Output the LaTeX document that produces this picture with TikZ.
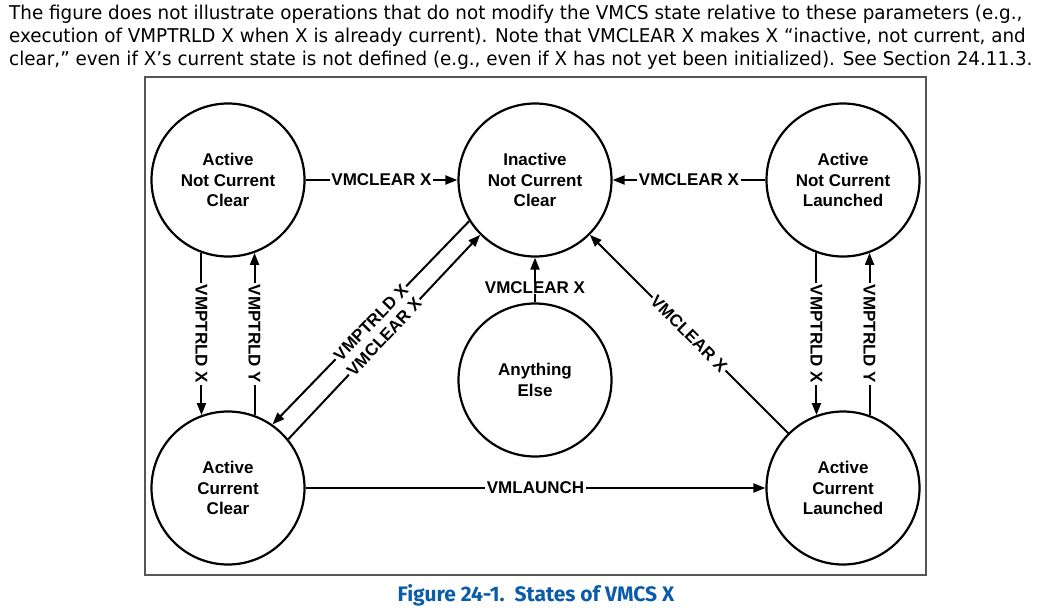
\documentclass[tikz,border=0pt]{standalone}
\usepackage{fontspec}
\usetikzlibrary{arrows.meta}
\newfontfamily\labfont{Liberation Sans}
\newfontfamily\parfont{DejaVu Sans}[FakeStretch=0.965]
\newfontfamily\capfont{Fira Sans}
\definecolor{intelblue}{HTML}{0B5CA8}
\definecolor{framegray}{HTML}{555555}
\begin{document}
\begin{tikzpicture}[x=1pt,y=-1pt,
  state/.style={circle,draw,line width=2.2pt,minimum size=153pt,inner sep=0pt,align=center,
    font=\labfont\bfseries\fontsize{17}{20.5}\selectfont},
  arr/.style={line width=2pt,-{Triangle[length=12pt,width=9pt]}},
  lbl/.style={fill=white,inner xsep=1.5pt,inner ysep=0pt,
    font=\labfont\bfseries\fontsize{17}{20}\selectfont},
  para/.style={anchor=base west,inner sep=0pt,
    font=\parfont\fontsize{19}{23}\selectfont},
  frame/.style={draw=framegray,line width=1.5pt,minimum width=781pt,minimum height=498pt,inner sep=0pt},
  capt/.style={font=\capfont\bfseries\fontsize{21}{24}\selectfont,text=intelblue,inner sep=0pt}
]
\useasboundingbox (0,0) rectangle (1040,613);
\node[para] (t1) at (9,19) {The figure does not illustrate operations that do not modify the VMCS state relative to these parameters (e.g.,};
\node[para] (t2) at (9,42) {execution of VMPTRLD X when X is already current). Note that VMCLEAR X makes X “inactive, not current, and};
\node[para] (t3) at (9,65) {clear,” even if X’s current state is not defined (e.g., even if X has not yet been initialized). See Section 24.11.3.};
\node[frame] (box) at (535.5,326) {};
\node[state] (ancc) at (228,180) {Active\\Not Current\\Clear};
\node[state] (incc) at (535,180) {Inactive\\Not Current\\Clear};
\node[state] (ancl) at (843,180) {Active\\Not Current\\Launched};
\node[state] (ae) at (535,380) {Anything\\Else};
\node[state] (acc) at (228,488) {Active\\Current\\Clear};
\node[state] (acl) at (843,488) {Active\\Current\\Launched};
% horizontal
\draw[arr] (ancc) -- node[lbl]{VMCLEAR X} (incc);
\draw[arr] (ancl) -- node[lbl]{VMCLEAR X} (incc);
\draw[arr] (acc) -- node[lbl]{VMLAUNCH} (acl);
\draw[arr] (ae) -- node[lbl,pos=0.33]{VMCLEAR X} (incc);
% verticals
\draw[arr] (ancc.-110) -- node[lbl,rotate=-90]{VMPTRLD X} (acc.110);
\draw[arr] (acc.70) -- node[lbl,rotate=-90]{VMPTRLD Y} (ancc.-70);
\draw[arr] (ancl.-110) -- node[lbl,rotate=-90]{VMPTRLD X} (acl.110);
\draw[arr] (acl.70) -- node[lbl,rotate=-90]{VMPTRLD Y} (ancl.-70);
% diagonals
\draw[arr] (incc.212) -- node[lbl,sloped]{VMPTRLD X} (acc.55.3);
\draw[arr] (acc.39.8) -- node[lbl,sloped]{VMCLEAR X} (incc.225.5);
\draw[arr] (acl.135) -- node[lbl,sloped]{VMCLEAR X} (incc.-45);
\node[capt] (cap) at (536,595) {Figure 24-1.~~States of VMCS X};
\end{tikzpicture}
\end{document}
